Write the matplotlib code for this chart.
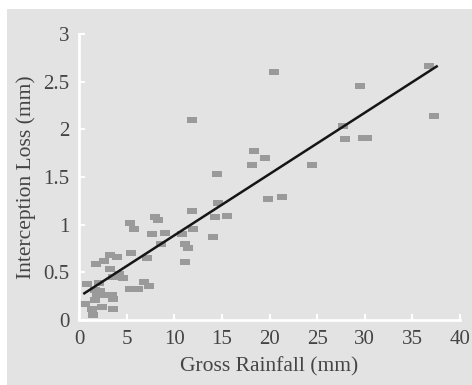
import numpy as np
import matplotlib
matplotlib.use("Agg")
import matplotlib.pyplot as plt
from matplotlib.patches import Rectangle

# gross rainfall (mm) vs interception loss (mm)
rain = [0.8, 0.63, 1.33, 1.5, 1.78, 2.13, 1.68, 1.86, 1.68, 2.2, 2.38, 2.66, 2.73,
        3.25, 3.25, 3.43, 3.53, 3.53, 3.6, 4.03, 4.23, 4.65, 5.42, 5.35, 5.77,
        5.35, 6.23, 6.82, 7.38, 7.17, 7.63, 7.98, 8.33, 8.57, 9.03, 10.78, 11.13,
        11.48, 11.13, 11.83, 11.83, 12.0, 14.1, 14.28, 14.5, 14.63, 15.5, 18.13,
        18.38, 19.53, 19.88, 20.5, 21.28, 24.43, 27.75, 27.93, 29.5, 29.85, 30.2,
        36.78, 37.3]
loss = [0.38, 0.17, 0.12, 0.05, 0.59, 0.39, 0.31, 0.26, 0.21, 0.30, 0.14, 0.62, 0.26,
        0.68, 0.53, 0.26, 0.22, 0.12, 0.45, 0.66, 0.48, 0.44, 0.70, 1.02, 0.95,
        0.33, 0.33, 0.40, 0.36, 0.65, 0.90, 1.08, 1.05, 0.80, 0.91, 0.90, 0.80,
        0.76, 0.61, 2.10, 1.14, 0.95, 0.87, 1.08, 1.53, 1.23, 1.09, 1.63,
        1.77, 1.70, 1.27, 2.60, 1.29, 1.63, 2.03, 1.90, 2.45, 1.91, 1.91,
        2.66, 2.14]

fit_x = [0.56, 37.55]
fit_y = [0.28, 2.66]

bg = "#e3e3e3"
plt.rcParams["font.family"] = ["Liberation Serif", "DejaVu Serif"]

fig = plt.figure(figsize=(4.72, 3.85), dpi=100, facecolor="white")
fig.patches.append(Rectangle((0.015, 0), 0.985, 1 - 9 / 385, transform=fig.transFigure,
                             facecolor=bg, edgecolor="none", zorder=-10))
ax = fig.add_axes([79 / 472, 1 - 320 / 385, 381 / 472, 286 / 385])
ax.set_facecolor(bg)

rect = [(-1, -0.62), (1, -0.62), (1, 0.62), (-1, 0.62), (-1, -0.62)]
ax.scatter(rain, loss, marker=rect, s=42, color="#9a9a9a", linewidths=0, zorder=2)
ax.plot(fit_x, fit_y, color="#151515", lw=1.8, zorder=3)

ax.set_xlim(0, 40)
ax.set_ylim(0, 3)
ax.set_xticks(np.arange(0, 41, 5))
ax.set_yticks([0, 0.5, 1, 1.5, 2, 2.5, 3])
ax.set_yticklabels(["0", "0.5", "1", "1.5", "2", "2.5", "3"])

for s in ["top", "right"]:
    ax.spines[s].set_visible(False)
for s in ["left", "bottom"]:
    ax.spines[s].set_color("white")
    ax.spines[s].set_linewidth(2)
ax.tick_params(direction="in", length=4, width=1.5, color="white",
               labelcolor="#444444", labelsize=15, pad=7)

ax.set_xlabel("Gross Rainfall (mm)", fontsize=15.5, color="#444444", labelpad=6)
ax.set_ylabel("Interception Loss (mm)", fontsize=15.5, color="#444444", labelpad=5)

fig.savefig("out.png", dpi=100, facecolor=fig.get_facecolor())
